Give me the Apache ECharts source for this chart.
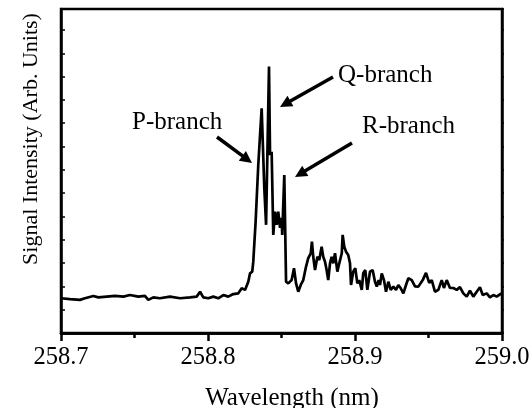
<!DOCTYPE html>
<html>
<head>
<meta charset="UTF-8">
<title>Spectrum</title>
<script type="text/javascript" src="https://cdn.jsdelivr.net/npm/echarts@6/dist/echarts.min.js"></script>
</head>
<body style="margin:0;background:#fff;">
<div id="main" style="width:532px;height:408px;"></div>
<script type="text/javascript">
// wavelength (nm) and signal (arb. units)
var wavelength = [
	258.7000, 258.7061, 258.7129, 258.7163, 258.7220, 258.7254, 258.7311, 258.7367, 258.7424, 258.7469,
	258.7526, 258.7571, 258.7594, 258.7628, 258.7673, 258.7741, 258.7810, 258.7878, 258.7923, 258.7946,
	258.7968, 258.8002, 258.8036, 258.8070, 258.8104, 258.8138, 258.8172, 258.8184, 258.8206,
	258.8229, 258.8252, 258.8274, 258.8286, 258.8301, 258.8308, 258.8324, 258.8342, 258.8365, 258.8383,
	258.8395, 258.8415, 258.8422, 258.8433, 258.8444, 258.8456, 258.8467, 258.8478, 258.8490, 258.8501,
	258.8505, 258.8519,
	258.8531, 258.8546, 258.8569, 258.8585, 258.8599, 258.8614, 258.8631, 258.8648, 258.8667, 258.8682,
	258.8699, 258.8707, 258.8716, 258.8728, 258.8744, 258.8757, 258.8773, 258.8784, 258.8796, 258.8807,
	258.8818, 258.8830, 258.8841, 258.8852, 258.8864, 258.8880, 258.8893, 258.8910, 258.8916, 258.8927,
	258.8939, 258.8954, 258.8966, 258.8973, 258.8988, 258.9002, 258.9016, 258.9029, 258.9046, 258.9056,
	258.9070, 258.9084, 258.9102, 258.9120, 258.9136, 258.9148, 258.9161, 258.9170, 258.9182, 258.9197,
	258.9211, 258.9227, 258.9243, 258.9261, 258.9279, 258.9295, 258.9311, 258.9329, 258.9347, 258.9363,
	258.9386, 258.9408, 258.9431, 258.9442, 258.9463, 258.9483, 258.9505, 258.9522, 258.9544, 258.9567,
	258.9590, 258.9605, 258.9624, 258.9646, 258.9669, 258.9692, 258.9714, 258.9737, 258.9760, 258.9782,
	258.9805, 258.9828, 258.9850, 258.9869, 258.9896, 258.9918, 258.9941, 258.9964, 258.9986, 259.0000
];
var intensity = [
	149, 145, 142, 149, 159, 153, 156, 159, 156, 163,
	156, 159, 142, 153, 149, 156, 149, 153, 156, 177,
	153, 149, 156, 149, 163, 156, 167, 163, 170,
	192, 185, 220, 256, 263, 306, 478, 721, 964, 622,
	464, 1143, 764, 778, 421, 521, 464, 521, 451, 494,
	421, 678,
	220, 213, 227, 278, 213, 177, 206, 227, 285, 321,
	342, 392, 327, 270, 327, 313, 370, 327, 306, 270,
	227, 299, 327, 299, 342, 263, 299, 342, 421, 370,
	349, 335, 299, 206, 263, 278, 213, 227, 185, 256,
	270, 185, 263, 270, 220, 199, 227, 206, 256, 227,
	177, 220, 185, 199, 185, 206, 192, 170, 206, 235,
	227, 200, 199, 206, 230, 258, 215, 227, 177, 185,
	227, 193, 227, 193, 193, 185, 197, 170, 156, 182,
	156, 177, 196, 163, 170, 153, 163, 156, 166, 170
];
var xMin = 258.7, xMax = 259.0, xStep = 0.1;
var yMin = 0, yMax = 1390, yStep = 100;

var labels = [
	{text: 'P-branch', x: 132, y: 122},
	{text: 'Q-branch', x: 338, y: 75},
	{text: 'R-branch', x: 362, y: 126}
];
var arrows = [
	[217, 137, 252, 163],
	[333, 77, 280, 107],
	[352, 143, 295, 177]
];

var serif = '"Liberation Serif", "Times New Roman", serif';

function arrow(a){
	var x1 = a[0], y1 = a[1], x2 = a[2], y2 = a[3];
	var dx = x2 - x1, dy = y2 - y1;
	var len = Math.sqrt(dx * dx + dy * dy);
	var ux = dx / len, uy = dy / len;
	var hl = 12, hw = 6;
	var bx = x2 - ux * hl, by = y2 - uy * hl;
	return [
		{type: 'line', shape: {x1: x1, y1: y1, x2: bx + ux, y2: by + uy}, style: {stroke: '#000', lineWidth: 3.5}},
		{type: 'polygon', shape: {points: [[x2, y2], [bx - uy * hw, by + ux * hw], [bx + uy * hw, by - ux * hw]]}, style: {fill: '#000'}}
	];
}

var graphics = [
	{type: 'text', x: 292, y: 398, style: {text: 'Wavelength (nm)', font: '25px ' + serif, fill: '#000', align: 'center', verticalAlign: 'middle'}},
	{type: 'text', x: 31, y: 139, rotation: Math.PI / 2, style: {text: 'Signal Intensity (Arb. Units)', font: '22px ' + serif, fill: '#000', align: 'center', verticalAlign: 'middle'}}
];
labels.forEach(function(l){
	graphics.push({type: 'text', x: l.x, y: l.y, style: {text: l.text, font: '25px ' + serif, fill: '#000', align: 'left', verticalAlign: 'middle'}});
});
arrows.forEach(function(a){
	graphics = graphics.concat(arrow(a));
});

var myChart = echarts.init(document.getElementById('main'));
var black = {color: '#000', width: 2.5};
var option = {
	animation: false,
	grid: {left: 61, right: 30, top: 9, bottom: 75, outerBoundsMode: 'none', show: true, borderColor: '#000', borderWidth: 2.5},
	xAxis: [{
		type: 'value', position: 'bottom', min: xMin, max: xMax, interval: xStep,
		axisLine: {show: true, lineStyle: black},
		axisTick: {show: true, inside: false, length: 8, lineStyle: black},
		minorTick: {show: true, splitNumber: 2, length: 5, lineStyle: black},
		axisLabel: {color: '#000', fontSize: 24.5, fontFamily: serif, margin: 12,
			formatter: function(v){ return v.toFixed(1); }},
		splitLine: {show: false}
	}, {
		type: 'value', position: 'top', min: xMin, max: xMax, interval: xStep,
		axisLine: {show: true, lineStyle: black},
		axisTick: {show: false}, axisLabel: {show: false}, splitLine: {show: false}
	}],
	yAxis: [{
		type: 'value', position: 'left', min: yMin, max: yMax, interval: yStep,
		axisLine: {show: true, lineStyle: black},
		axisTick: {show: true, inside: true, length: 4, lineStyle: {color: '#000', width: 1.5}},
		axisLabel: {show: false}, splitLine: {show: false}
	}, {
		type: 'value', position: 'right', min: yMin, max: yMax, interval: yStep,
		axisLine: {show: true, lineStyle: black},
		axisTick: {show: true, inside: false, length: 2, lineStyle: {color: '#000', width: 1.5}},
		axisLabel: {show: false}, splitLine: {show: false}
	}],
	series: [{
		type: 'line',
		xAxisIndex: 0, yAxisIndex: 0,
		showSymbol: false,
		silent: true,
		lineStyle: {color: '#000', width: 2.7},
		data: wavelength.map(function(w, i){ return [w, intensity[i]]; })
	}],
	graphic: graphics
};
myChart.setOption(option);
</script>
</body>
</html>
